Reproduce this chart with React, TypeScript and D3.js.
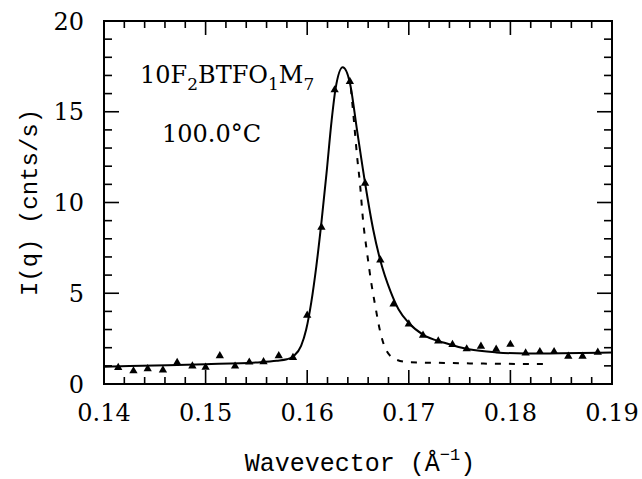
import React, { useEffect, useRef } from 'react';
import * as d3 from 'd3';

// measured intensity (triangles)
const dataQ = [
    0.1414, 0.1429, 0.1443, 0.1458, 0.1472, 0.1487, 0.1500, 0.1514, 0.1529, 0.1543,
    0.1557, 0.1572, 0.1586, 0.1600, 0.1614, 0.1627, 0.1642, 0.1657, 0.1672, 0.1685,
    0.1700, 0.1714, 0.1729, 0.1743, 0.1757, 0.1771, 0.1786, 0.1800, 0.1815, 0.1829,
    0.1843, 0.1857, 0.1871, 0.1886
];
const dataI = [
    0.90, 0.72, 0.84, 0.77, 1.18, 0.99, 0.92, 1.55, 0.98, 1.20,
    1.22, 1.55, 1.46, 3.78, 8.63, 16.2, 16.66, 11.06, 6.83, 4.40,
    3.30, 2.68, 2.36, 2.17, 1.93, 2.07, 1.91, 2.18, 1.70, 1.78,
    1.78, 1.52, 1.52, 1.75
];

// full fit (solid)
const fitQ = [
    0.1400, 0.1450, 0.1500, 0.1550, 0.1570, 0.1580, 0.1587, 0.1594, 0.1599, 0.1604,
    0.1609, 0.1614, 0.1619, 0.1624, 0.1628, 0.1635, 0.1642, 0.1649, 0.1657, 0.1665,
    0.1672, 0.1682, 0.1690, 0.1700, 0.1714, 0.1735, 0.1759, 0.1786, 0.1815, 0.1850,
    0.1900
];
const fitI = [
    0.95, 1.02, 1.09, 1.19, 1.28, 1.36, 1.55, 2.1, 3.0, 4.5,
    6.5, 8.9, 11.6, 14.5, 16.3, 17.45, 16.6, 14.0, 11.06, 8.5,
    6.8, 5.1, 4.1, 3.36, 2.72, 2.27, 1.91, 1.74, 1.68, 1.69,
    1.73
];

// second component (dashed)
const dashQ = [
    0.1643, 0.1646, 0.1649, 0.1652, 0.1655, 0.1659, 0.1663, 0.1667, 0.1672, 0.1677,
    0.1687, 0.1700, 0.1735, 0.1780, 0.1833
];
const dashI = [
    16.3, 14.5, 12.6, 11.0, 9.0, 7.2, 5.6, 4.3, 2.85, 1.95,
    1.36, 1.20, 1.16, 1.12, 1.10
];

const xTicks = [0.14, 0.15, 0.16, 0.17, 0.18, 0.19];
const xTickLabels = ['0.14', '0.15', '0.16', '0.17', '0.18', '0.19'];
const yTicks = [0, 5, 10, 15, 20];
const yTickLabels = ['0', '5', '10', '15', '20'];

const App: React.FC = () => {
    const svgRef = useRef<SVGSVGElement>(null);

    useEffect(() => {
        if (!svgRef.current) return;
        const svg = d3.select(svgRef.current);
        svg.selectAll('*').remove();

        const left = 104, right = 612, top = 21, bottom = 384;
        const numFont = 'DejaVu Serif';
        const titleFont = 'Liberation Mono';

        const x = d3.scaleLinear().domain([0.14, 0.19]).range([left, right]);
        const y = d3.scaleLinear().domain([0, 20]).range([bottom, top]);

        // frame
        svg.append('rect')
            .attr('x', left).attr('y', top)
            .attr('width', right - left).attr('height', bottom - top)
            .attr('fill', 'none').attr('stroke', '#000').attr('stroke-width', 2);

        // x ticks (bottom and top, pointing inward)
        x.ticks(25).forEach(t => {
            const major = xTicks.some(m => Math.abs(m - t) < 1e-9);
            const len = major ? 14 : 7;
            [[bottom, bottom - len], [top, top + len]].forEach(([a, b]) => {
                svg.append('line')
                    .attr('x1', x(t)).attr('x2', x(t))
                    .attr('y1', a).attr('y2', b)
                    .attr('stroke', '#000').attr('stroke-width', 1.6);
            });
        });

        // y ticks (left and right)
        y.ticks(20).forEach(t => {
            const major = yTicks.includes(t);
            const len = major ? 15 : 8;
            [[left, left + len], [right, right - len]].forEach(([a, b]) => {
                svg.append('line')
                    .attr('x1', a).attr('x2', b)
                    .attr('y1', y(t)).attr('y2', y(t))
                    .attr('stroke', '#000').attr('stroke-width', 1.6);
            });
        });

        // tick labels
        svg.append('g').selectAll('text')
            .data(xTicks)
            .enter().append('text')
            .attr('x', d => x(d))
            .attr('y', 421)
            .attr('text-anchor', 'middle')
            .attr('font-family', numFont)
            .attr('font-size', 24)
            .text((d, i) => xTickLabels[i]);

        svg.append('g').selectAll('text')
            .data(yTicks)
            .enter().append('text')
            .attr('x', 84)
            .attr('y', d => y(d) + 8.5)
            .attr('text-anchor', 'end')
            .attr('font-family', numFont)
            .attr('font-size', 24)
            .text((d, i) => yTickLabels[i]);

        // axis titles
        const xt = svg.append('text')
            .attr('x', (left + right) / 2 + 2)
            .attr('y', 471)
            .attr('text-anchor', 'middle')
            .attr('font-family', titleFont)
            .attr('font-size', 25);
        xt.append('tspan').text('Wavevector (Å');
        xt.append('tspan').attr('font-size', 17).attr('dy', -11).text('−1');
        xt.append('tspan').attr('dy', 11).text(')');

        svg.append('text')
            .attr('transform', `translate(37, ${(top + bottom) / 2}) rotate(-90)`)
            .attr('text-anchor', 'middle')
            .attr('font-family', titleFont)
            .attr('font-size', 24)
            .text('I(q) (cnts/s)');

        // annotations
        const name = svg.append('text')
            .attr('x', 140).attr('y', 83)
            .attr('font-family', numFont)
            .attr('font-size', 24);
        const parts: [string, boolean][] = [
            ['10F', false], ['2', true], ['BTFO', false], ['1', true], ['M', false], ['7', true]
        ];
        parts.forEach(([txt, sub]) => {
            name.append('tspan')
                .attr('font-size', sub ? 17 : 24)
                .attr('dy', sub ? 7 : -7)
                .text(txt);
        });
        // first tspan should sit on the baseline
        name.select('tspan').attr('dy', 0);

        svg.append('text')
            .attr('x', 162).attr('y', 142)
            .attr('font-family', numFont)
            .attr('font-size', 24)
            .text('100.0°C');

        // curves
        const line = d3.line<number>()
            .x(d => x(d))
            .curve(d3.curveMonotoneX);

        svg.append('path')
            .attr('d', line.y((d, i) => y(fitI[i]))(fitQ))
            .attr('fill', 'none')
            .attr('stroke', '#000')
            .attr('stroke-width', 2);

        svg.append('path')
            .attr('d', line.y((d, i) => y(dashI[i]))(dashQ))
            .attr('fill', 'none')
            .attr('stroke', '#000')
            .attr('stroke-width', 2)
            .attr('stroke-dasharray', '6 8');

        // data triangles
        const tri = d3.symbol().type(d3.symbolTriangle).size(30);
        svg.append('g').selectAll('path')
            .data(dataQ)
            .enter().append('path')
            .attr('d', tri)
            .attr('transform', (d, i) => `translate(${x(d)}, ${y(dataI[i])})`)
            .attr('fill', '#000');
    }, []);

    return (
        <svg
            ref={svgRef}
            width={642}
            height={479}
            style={{ position: 'absolute', left: 0, top: 0, background: '#fff' }}
        />
    );
};

export default App;
